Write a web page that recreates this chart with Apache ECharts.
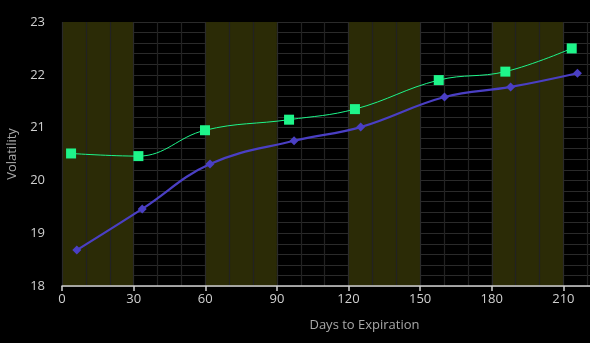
<!DOCTYPE html>
<html>
<head>
<meta charset="utf-8">
<script src="https://cdn.jsdelivr.net/npm/echarts@6/dist/echarts.min.js"></script>
<style>
html,body{margin:0;padding:0;background:#000;}
#chart{width:590px;height:343px;}
</style>
</head>
<body>
<div id="chart"></div>
<script>
// Data
var upperDays = [3.8, 32, 59.9, 95.1, 122.7, 157.8, 185.7, 213.5];
var upperVol  = [20.51, 20.46, 20.95, 21.15, 21.35, 21.90, 22.06, 22.50];
var lowerDays = [6.2, 33.6, 62, 97.2, 125.1, 160.2, 187.9, 215.9];
var lowerVol  = [18.68, 19.46, 20.31, 20.75, 21.01, 21.58, 21.77, 22.03];
var xTicks = [0, 30, 60, 90, 120, 150, 180, 210];
var yTicks = [18, 19, 20, 21, 22, 23];

function pairs(xs, ys){ return xs.map(function(x,i){ return [x, ys[i]]; }); }

var font = "'Open Sans', 'Noto Sans', sans-serif";
var chart = echarts.init(document.getElementById('chart'));
chart.setOption({
  backgroundColor: '#000000',
  animation: false,
  grid: { left: 62, top: 22, bottom: 57, right: -45, containLabel: false, outerBoundsMode: 'none' },
  xAxis: {
    type: 'value', min: 0, max: 240, interval: 30,
    name: 'Days to Expiration', nameLocation: 'middle', nameGap: 33,
    nameTextStyle: { color: '#a8a8a8', fontSize: 13, fontFamily: font, padding: [0, 0, 0, 32] },
    axisLine: { show: true, lineStyle: { color: '#cfcfcf', width: 1.5 } },
    axisTick: { show: true, length: 5, lineStyle: { color: '#cfcfcf', width: 1.5 } },
    axisLabel: { color: '#d0d0d0', fontSize: 13, fontFamily: font, margin: 7,
      formatter: function(v){ return xTicks.indexOf(v) >= 0 ? String(v) : ''; } },
    splitLine: { show: true, lineStyle: { color: '#2a2a2a', width: 1.2 } },
    minorTick: { show: false, splitNumber: 3 },
    minorSplitLine: { show: true, lineStyle: { color: '#222222', width: 1.2 } },
    splitArea: { show: true, areaStyle: { color: ['#2b2b06', 'rgba(0,0,0,0)'] } }
  },
  yAxis: {
    type: 'value', min: 18, max: 23, interval: 1,
    name: 'Volatility', nameLocation: 'middle', nameGap: 42, nameRotate: 90,
    nameTextStyle: { color: '#a8a8a8', fontSize: 13, fontFamily: font },
    axisLine: { show: false },
    axisTick: { show: false },
    axisLabel: { color: '#d0d0d0', fontSize: 13, fontFamily: font, margin: 17,
      formatter: function(v){ return yTicks.indexOf(v) >= 0 ? String(v) : ''; } },
    splitLine: { show: true, lineStyle: { color: '#2a2a2a', width: 1.2 } },
    minorTick: { show: false, splitNumber: 5 },
    minorSplitLine: { show: true, lineStyle: { color: '#2a2a2a', width: 1.2 } }
  },
  series: [
    {
      type: 'line', data: pairs(lowerDays, lowerVol), smooth: 0.4,
      symbol: 'diamond', symbolSize: 9,
      lineStyle: { color: '#4a3fc4', width: 2.2 },
      itemStyle: { color: '#4a3fc4' }
    },
    {
      type: 'line', data: pairs(upperDays, upperVol), smooth: 0.4,
      symbol: 'rect', symbolSize: 10,
      lineStyle: { color: '#1ef58a', width: 1 },
      itemStyle: { color: '#1ef58a' }
    }
  ]
});
</script>
</body>
</html>
